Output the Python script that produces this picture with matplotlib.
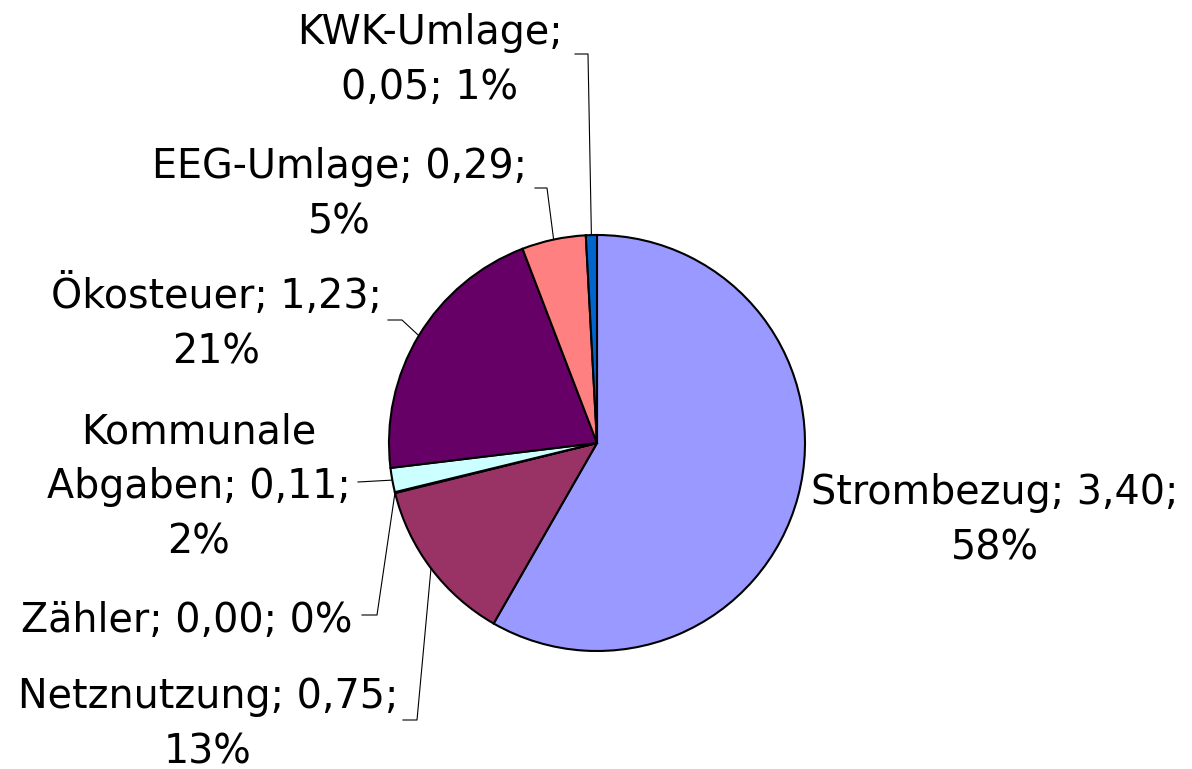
import matplotlib
matplotlib.use("Agg")
import matplotlib.pyplot as plt
import numpy as np

# ---- data ----
categories = ["Strombezug", "Netznutzung", "Zähler", "Kommunale Abgaben",
              "Ökosteuer", "EEG-Umlage", "KWK-Umlage"]
values = [3.40, 0.75, 0.004, 0.11, 1.23, 0.29, 0.05]
colors = ["#9999FF", "#993366", "#FFFFCC", "#CCFFFF", "#660066", "#FF8080", "#0066CC"]

# ---- layout (pixels, y from top) ----
W, H = 1192, 769
center_px = (597, 443)
radius_px = 208
# token indices after which a line break happens
breaks = {
    "Strombezug": [2], "Netznutzung": [2], "Zähler": [], "Kommunale Abgaben": [1, 3],
    "Ökosteuer": [2], "EEG-Umlage": [2], "KWK-Umlage": [1],
}
# centre x and first-line baseline y of each label
label_pos = {
    "Strombezug": (995, 504), "Netznutzung": (208, 708), "Zähler": (187, 632),
    "Kommunale Abgaben": (199, 443), "Ökosteuer": (216, 308),
    "EEG-Umlage": (339, 178), "KWK-Umlage": (430, 44),
}
line_gap = 55
# leader line points after the slice anchor (pixels)
leaders = {
    "KWK-Umlage": [(588, 54), (575, 54)],
    "EEG-Umlage": [(547, 188), (535, 188)],
    "Ökosteuer": [(402, 320), (388, 320)],
    "Kommunale Abgaben": [(358, 482)],
    "Zähler": [(377, 615), (362, 615)],
    "Netznutzung": [(417, 720), (403, 720)],
}

def Y(y):
    return H - y

fig = plt.figure(figsize=(W / 100, H / 100), dpi=100)
ax = fig.add_axes([0, 0, 1, 1])
wedges, _ = ax.pie(values, colors=colors, startangle=90, counterclock=False,
                   center=(center_px[0], Y(center_px[1])), radius=radius_px,
                   wedgeprops=dict(edgecolor="black", linewidth=1.5))
ax.set_xlim(0, W)
ax.set_ylim(0, H)
ax.set_aspect("auto")
ax.axis("off")

total = sum(values)
for name, val, w in zip(categories, values, wedges):
    pct = round(val / total * 100)
    val_s = f"{val:.2f}".replace(".", ",")
    tokens = f"{name}; {val_s}; {pct}%".split(" ")
    lines, cur = [], []
    for i, t in enumerate(tokens):
        cur.append(t)
        if (i + 1) in breaks[name]:
            lines.append(" ".join(cur)); cur = []
    if cur:
        lines.append(" ".join(cur))
    x0, y0 = label_pos[name]
    for k, ln in enumerate(lines):
        ax.text(x0, Y(y0 + k * line_gap), ln, ha="center", va="baseline",
                fontsize=28.5, family="DejaVu Sans", color="black")
    if name in leaders:
        ang = np.deg2rad((w.theta1 + w.theta2) / 2)
        ax_x = center_px[0] + radius_px * np.cos(ang)
        ax_y = Y(center_px[1]) + radius_px * np.sin(ang)
        pts = [(ax_x, ax_y)] + [(px, Y(py)) for px, py in leaders[name]]
        xs, ys = zip(*pts)
        ax.plot(xs, ys, color="black", linewidth=0.8, zorder=0.5)

fig.savefig("out.png", dpi=100)
